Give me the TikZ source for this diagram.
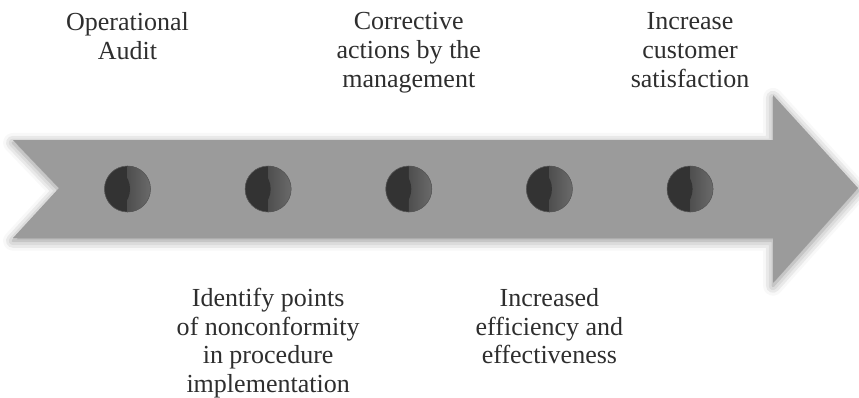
\documentclass[tikz,border=0pt]{standalone}
\usepackage{fontspec}
\setmainfont{Liberation Serif}
\usetikzlibrary{positioning,shadows.blur}

\definecolor{arrowgray}{HTML}{9B9B9B}
\definecolor{balldark}{HTML}{333333}
\definecolor{ballglow}{HTML}{6A6A6A}
\definecolor{textgray}{HTML}{2E2E2E}

\tikzset{
  ball/.style={circle, minimum size=1.15cm, inner sep=0pt, fill=balldark,
    draw=black!65, line width=0.4pt,
    path picture={
      \shade[left color=balldark, right color=ballglow]
        (path picture bounding box.south) rectangle (path picture bounding box.north east);
      \fill[balldark] ([xshift=-14.5pt]path picture bounding box.center) circle (16.3pt);
    }},
  caption/.style={align=center, inner sep=0pt, anchor=north, text=textgray,
    font=\fontsize{18.5}{20.4}\selectfont}
}

\begin{document}
\begin{tikzpicture}[x=0.025cm, y=-0.025cm, node distance=3.515cm]
\useasboundingbox (0,0) rectangle (859,397);

% the timeline arrow
\path[fill=arrowgray, blur shadow={shadow xshift=0pt, shadow yshift=-2pt,
    shadow blur radius=7pt, shadow opacity=45}]
  (13,140) -- (773,140) -- (773,95) -- (858,188) -- (773,283)
  -- (773,238) -- (13,238) -- (59,188) -- cycle;

\node[ball] (Dot1) at (127.5,189) {};
\node[ball] (Dot2) [right of=Dot1] {};
\node[ball] (Dot3) [right of=Dot2] {};
\node[ball] (Dot4) [right of=Dot3] {};
\node[ball] (Dot5) [right of=Dot4] {};

\node[caption] (Audit)        at (Dot1 |- 0,12.2) {Operational\\Audit};
\node[caption] (Corrective)   at (Dot3 |- 0,12.2) {Corrective\\actions by the\\management};
\node[caption] (Satisfaction) at (Dot5 |- 0,12.6) {Increase\\customer\\satisfaction};

\node[caption] (Nonconformity) at (Dot2 |- 0,288) {Identify points\\of nonconformity\\in procedure\\implementation};
\node[caption] (Efficiency)    at (Dot4 |- 0,288) {Increased\\efficiency and\\effectiveness};

\end{tikzpicture}
\end{document}
